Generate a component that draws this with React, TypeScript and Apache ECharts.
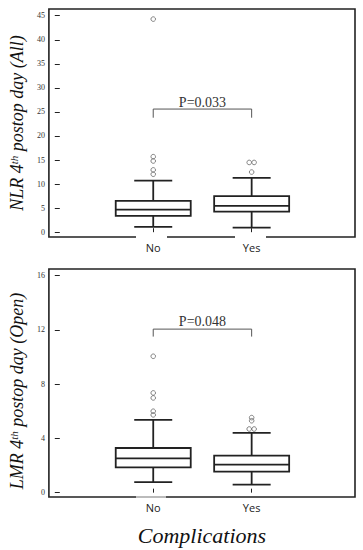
import React, { useEffect, useRef } from "react";
import * as echarts from "echarts";

const categories = ["No", "Yes"];
const categoryPos = [1, 2];
// [lower whisker, Q1, median, Q3, upper whisker]
const nlrBoxes = [
  [1.1, 3.4, 4.7, 6.5, 10.7],
  [0.96, 4.28, 5.47, 7.48, 11.3],
];
const nlrOutliers = [
  [1, 44.3], [1, 15.7], [1, 14.8], [1, 12.95], [1, 12.05],
  [1.975, 14.5], [2.025, 14.5], [2, 12.5],
];
const lmrBoxes = [
  [0.78, 1.87, 2.53, 3.29, 5.36],
  [0.59, 1.55, 2.07, 2.73, 4.4],
];
const lmrOutliers = [
  [1, 10.05], [1, 7.35], [1, 6.98], [1, 6.0], [1, 5.73],
  [2, 5.53], [2, 5.3], [1.975, 4.69], [2.025, 4.69],
];
const nlrTicks = [0, 5, 10, 15, 20, 25, 30, 35, 40, 45];
const lmrTicks = [0, 4, 8, 12, 16];
const pLabels = ["P=0.033", "P=0.048"];
const bracketTop = [25.6, 12.05];
const bracketFoot = [23.8, 11.5];
const pTextLevel = [26.9, 12.6];
const yTitles = [
  "{i|NLR 4}{sup|th}{i| postop day (All)}",
  "{i|LMR 4}{sup|th}{i| postop day (Open)}",
];
const xTitle = "Complications";

const INK = "#222";
const SERIF = "'Liberation Serif', 'Times New Roman', 'DejaVu Serif', serif";

function boxRender(params: any, api: any) {
  const x = api.value(0);
  const lo = api.coord([x, api.value(1)]);
  const q1 = api.coord([x, api.value(2)]);
  const med = api.coord([x, api.value(3)]);
  const q3 = api.coord([x, api.value(4)]);
  const hi = api.coord([x, api.value(5)]);
  const cx = lo[0];
  const hw = 37.5;
  const cw = 19;
  const ls = { stroke: INK, lineWidth: 1.8 };
  return {
    type: "group",
    children: [
      { type: "line", shape: { x1: cx, y1: hi[1], x2: cx, y2: q3[1] }, style: ls },
      { type: "line", shape: { x1: cx, y1: q1[1], x2: cx, y2: lo[1] }, style: ls },
      { type: "line", shape: { x1: cx - cw, y1: hi[1], x2: cx + cw, y2: hi[1] }, style: ls },
      { type: "line", shape: { x1: cx - cw, y1: lo[1], x2: cx + cw, y2: lo[1] }, style: ls },
      {
        type: "rect",
        shape: { x: cx - hw, y: q3[1], width: hw * 2, height: q1[1] - q3[1] },
        style: { fill: "#fff", stroke: INK, lineWidth: 1.8 },
      },
      { type: "line", shape: { x1: cx - hw, y1: med[1], x2: cx + hw, y2: med[1] }, style: ls },
    ],
  };
}

function makeBracketRender(label: string) {
  return function (params: any, api: any) {
    const a = api.coord([api.value(0), api.value(2)]);
    const b = api.coord([api.value(1), api.value(2)]);
    const foot = api.coord([api.value(0), api.value(3)]);
    const t = api.coord([(api.value(0) + api.value(1)) / 2, api.value(4)]);
    const ls = { stroke: "#555", lineWidth: 1 };
    return {
      type: "group",
      children: [
        { type: "line", shape: { x1: a[0], y1: a[1], x2: b[0], y2: b[1] }, style: ls },
        { type: "line", shape: { x1: a[0], y1: a[1], x2: a[0], y2: foot[1] }, style: ls },
        { type: "line", shape: { x1: b[0], y1: b[1], x2: b[0], y2: foot[1] }, style: ls },
        {
          type: "text",
          style: {
            text: label,
            x: t[0],
            y: t[1],
            align: "center",
            verticalAlign: "middle",
            fontSize: 14,
            fontFamily: SERIF,
            fill: "#333",
          },
        },
      ],
    };
  };
}

export default function App() {
  const ref = useRef<HTMLDivElement>(null);
  useEffect(() => {
    if (!ref.current) return;
    const chart = echarts.init(ref.current, undefined, { renderer: "svg" });
    const grids = [
      { left: 44, top: 9, width: 311, height: 228 },
      { left: 44, top: 269, width: 311, height: 228 },
    ].map((g) => ({ ...g, show: true, borderColor: INK, borderWidth: 1.6, backgroundColor: "#fff" }));

    const xAxes = [0, 1].map((i) => ({
      type: "value",
      gridIndex: i,
      min: -0.06,
      max: 3.05,
      splitLine: { show: false },
      axisLine: { show: false },
      axisTick: {
        show: true,
        inside: true,
        length: 4,
        customValues: categoryPos,
        lineStyle: { color: INK, width: 1 },
      },
      axisLabel: {
        customValues: categoryPos,
        formatter: (v: number) => categories[Math.round(v) - 1] ?? "",
        fontFamily: "Open Sans",
        fontSize: 11,
        color: "#222",
        margin: 5,
      },
      name: i === 1 ? xTitle : "",
      nameLocation: "middle",
      nameGap: 27,
      nameTextStyle: {
        fontFamily: SERIF,
        fontStyle: "italic",
        fontSize: 22,
        color: "#111",
      },
    }));

    const yAxes = [0, 1].map((i) => ({
      type: "value",
      gridIndex: i,
      min: i === 0 ? -1 : -0.32,
      max: i === 0 ? 46.4 : 16.48,
      splitLine: { show: false },
      axisLine: { show: false },
      axisTick: {
        show: true,
        inside: true,
        length: 5,
        customValues: i === 0 ? nlrTicks : lmrTicks,
        lineStyle: { color: INK, width: 1 },
      },
      axisLabel: {
        customValues: i === 0 ? nlrTicks : lmrTicks,
        fontFamily: SERIF,
        fontSize: 8,
        color: "#333",
        margin: 4,
      },
      name: yTitles[i],
      nameLocation: "middle",
      nameGap: 17,
      nameRotate: 90,
      nameTextStyle: {
        padding: i === 1 ? [0, 16, 0, 0] : [0, 0, 0, 0],
        rich: {
          i: {
            fontFamily: SERIF,
            fontStyle: "italic",
            fontSize: 18,
            color: "#111",
          },
          sup: {
            fontFamily: SERIF,
            fontStyle: "italic",
            fontSize: 11,
            color: "#111",
            verticalAlign: "top",
          },
        },
      },
    }));

    const scatterStyle = {
      type: "scatter",
      symbol: "circle",
      symbolSize: 4.6,
      itemStyle: { color: "none", borderColor: "#666", borderWidth: 1 },
      silent: true,
    };

    chart.setOption({
      animation: false,
      grid: grids,
      xAxis: xAxes,
      yAxis: yAxes,
      series: [
        {
          type: "custom",
          xAxisIndex: 0,
          yAxisIndex: 0,
          renderItem: boxRender,
          data: nlrBoxes.map((b, k) => [categoryPos[k], ...b]),
          z: 3,
        },
        {
          type: "custom",
          xAxisIndex: 1,
          yAxisIndex: 1,
          renderItem: boxRender,
          data: lmrBoxes.map((b, k) => [categoryPos[k], ...b]),
          z: 3,
        },
        {
          type: "custom",
          xAxisIndex: 0,
          yAxisIndex: 0,
          renderItem: makeBracketRender(pLabels[0]),
          data: [[1, 2, bracketTop[0], bracketFoot[0], pTextLevel[0]]],
          z: 3,
        },
        {
          type: "custom",
          xAxisIndex: 1,
          yAxisIndex: 1,
          renderItem: makeBracketRender(pLabels[1]),
          data: [[1, 2, bracketTop[1], bracketFoot[1], pTextLevel[1]]],
          z: 3,
        },
        { ...scatterStyle, xAxisIndex: 0, yAxisIndex: 0, data: nlrOutliers, z: 4 },
        { ...scatterStyle, xAxisIndex: 1, yAxisIndex: 1, data: lmrOutliers, z: 4 },
      ],
      graphic: [
        { type: "rect", shape: { x: 136, y: 236, width: 31, height: 2 }, style: { fill: "#fff" }, z: 10 },
        { type: "rect", shape: { x: 235, y: 236, width: 31, height: 2 }, style: { fill: "#fff" }, z: 10 },
        { type: "rect", shape: { x: 136, y: 496, width: 30, height: 2 }, style: { fill: "#bbb" }, z: 10 },
      ],
    });
    return () => chart.dispose();
  }, []);
  return (
    <div
      ref={ref}
      style={{ position: "fixed", left: 0, top: 0, width: 363, height: 550, background: "#fff" }}
    />
  );
}
